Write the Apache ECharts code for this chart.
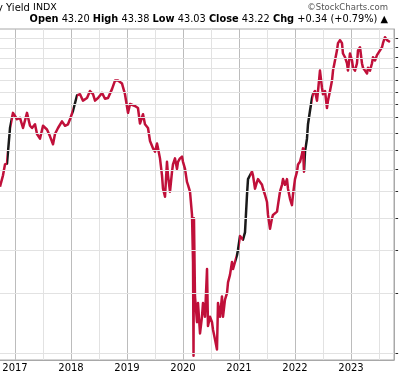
<!DOCTYPE html>
<html>
<head>
<meta charset="utf-8">
<script src="https://cdn.jsdelivr.net/npm/echarts@6/dist/echarts.min.js"></script>
<style>
  html, body { margin: 0; padding: 0; background: #fff; }
  #main { width: 400px; height: 376px; }
</style>
</head>
<body>
<div id="main"></div>
<script>
// dates as decimal years
const years = [
  2016.732, 2016.786, 2016.821, 2016.857, 2016.875, 2016.911, 2016.964, 2017.036, 2017.089, 2017.143,
  2017.214, 2017.268, 2017.304, 2017.357, 2017.393, 2017.446, 2017.5, 2017.571, 2017.625, 2017.679,
  2017.714, 2017.768, 2017.839, 2017.893, 2017.946, 2017.982, 2018.036, 2018.107, 2018.161, 2018.214,
  2018.286, 2018.339, 2018.393, 2018.429, 2018.482, 2018.554, 2018.607, 2018.661, 2018.732, 2018.786,
  2018.839, 2018.911, 2018.964, 2019.018, 2019.054, 2019.143, 2019.196, 2019.232, 2019.286, 2019.321,
  2019.375, 2019.411, 2019.464, 2019.5, 2019.536, 2019.554, 2019.589, 2019.625, 2019.643, 2019.679,
  2019.714, 2019.732, 2019.768, 2019.804, 2019.821, 2019.857, 2019.893, 2019.911, 2019.946, 2019.982,
  2020.0, 2020.036, 2020.071, 2020.089, 2020.125, 2020.161, 2020.179, 2020.188, 2020.196, 2020.214,
  2020.25, 2020.268, 2020.304, 2020.339, 2020.357, 2020.393, 2020.429, 2020.446, 2020.482, 2020.518,
  2020.536, 2020.571, 2020.607, 2020.625, 2020.661, 2020.696, 2020.714, 2020.75, 2020.786, 2020.804,
  2020.839, 2020.875, 2020.893, 2020.929, 2020.964, 2020.982, 2021.018, 2021.071, 2021.107, 2021.143,
  2021.161, 2021.196, 2021.232, 2021.25, 2021.286, 2021.321, 2021.339, 2021.375, 2021.411, 2021.429,
  2021.464, 2021.5, 2021.518, 2021.554, 2021.589, 2021.607, 2021.679, 2021.696, 2021.732, 2021.768,
  2021.786, 2021.821, 2021.857, 2021.875, 2021.911, 2021.946, 2021.964, 2022.0, 2022.036, 2022.054,
  2022.089, 2022.125, 2022.143, 2022.161, 2022.179, 2022.214, 2022.232, 2022.268, 2022.304, 2022.321,
  2022.357, 2022.393, 2022.411, 2022.446, 2022.482, 2022.5, 2022.536, 2022.571, 2022.589, 2022.625,
  2022.661, 2022.679, 2022.714, 2022.75, 2022.768, 2022.804, 2022.839, 2022.857, 2022.893, 2022.929,
  2022.946, 2022.982, 2023.018, 2023.036, 2023.071, 2023.107, 2023.125, 2023.161, 2023.196, 2023.214,
  2023.25, 2023.286, 2023.304, 2023.339, 2023.375, 2023.393, 2023.429, 2023.464, 2023.482, 2023.518,
  2023.554, 2023.571, 2023.607, 2023.643, 2023.661, 2023.696
];
const values = [
  22.2, 23.4, 24.6, 24.7, 24.6, 29.1, 31.2, 30.3, 30.5, 29.1,
  31.2, 29.4, 29.1, 29.6, 28.3, 27.7, 29.4, 28.9, 28.0, 27.0,
  28.3, 29.1, 30.0, 29.4, 29.6, 30.3, 31.5, 33.8, 34.0, 33.0,
  33.4, 34.5, 34.0, 33.0, 33.4, 34.2, 33.3, 33.4, 34.8, 36.2,
  36.2, 35.7, 34.0, 31.2, 32.5, 32.2, 31.9, 29.7, 31.0, 29.6,
  29.1, 27.4, 26.5, 26.1, 27.1, 26.5, 25.3, 23.4, 22.0, 21.2,
  24.9, 23.4, 21.7, 23.8, 24.6, 25.3, 24.1, 24.9, 25.3, 25.5,
  24.9, 24.1, 22.7, 22.4, 21.7, 19.5, 15.7, 10.2, 19.2, 13.4,
  11.9, 13.0, 11.3, 12.2, 13.0, 12.2, 15.2, 11.7, 12.2, 11.9,
  11.5, 11.0, 10.5, 13.0, 12.2, 13.4, 12.2, 13.2, 13.6, 14.3,
  14.8, 15.7, 15.2, 15.7, 16.2, 16.6, 17.7, 17.4, 18.0, 21.4,
  23.0, 23.4, 23.8, 23.4, 22.0, 22.7, 23.0, 22.7, 22.4, 22.0,
  21.4, 20.7, 19.5, 18.3, 19.2, 19.5, 19.8, 20.4, 21.7, 22.4,
  23.0, 22.4, 23.0, 22.0, 21.0, 20.4, 21.4, 23.0, 23.8, 24.6,
  24.9, 25.8, 26.5, 23.8, 26.1, 27.7, 29.6, 31.5, 33.4, 34.0,
  34.5, 33.0, 34.5, 37.9, 35.0, 34.0, 34.5, 31.9, 33.0, 34.5,
  36.2, 37.9, 39.7, 41.6, 43.0, 43.6, 43.0, 41.0, 40.3, 39.2,
  37.9, 41.0, 39.7, 38.4, 37.9, 39.2, 41.6, 42.2, 39.2, 38.4,
  37.9, 37.4, 38.4, 37.9, 39.2, 40.3, 39.7, 40.7, 40.7, 41.6,
  42.2, 43.0, 44.2, 43.6, 44.0, 43.22
];
// horizontal grid levels of the right-hand price scale
const gridLevels = [44, 42.1, 40.2, 38.4, 36.3, 34.3, 32.4, 30.6, 28.4, 26.3, 24.0, 21.7, 19.2, 16.6, 13.6, 10.3];
// stretches of steady up days, drawn black like the original
const upRuns = [
  [2016.86, 2016.93], [2018.03, 2018.1], [2020.94, 2021.0],
  [2021.07, 2021.2], [2022.18, 2022.31]
];

const chart = echarts.init(document.getElementById('main'));
const data = years.map((y, i) => [y, values[i]]);

const option = {
  animation: false,
  backgroundColor: '#fff',
  textStyle: { fontFamily: 'DejaVu Sans' },
  grid: {
    left: -13, right: 6, top: 29, bottom: 16,
    outerBoundsMode: 'none', containLabel: false,
    show: true, borderColor: '#a8a8a8', borderWidth: 1, backgroundColor: '#fff'
  },
  graphic: [
    {
      type: 'text', left: -3, top: 3,
      style: {
        text: 'y Yield {s|INDX}', font: '10px "DejaVu Sans"', fill: '#000',
        rich: { s: { fontSize: 9.5, fontFamily: 'DejaVu Sans' } }
      }
    },
    {
      type: 'text', right: 12, top: 3,
      style: { text: '\u00a9StockCharts.com', font: '8.5px "DejaVu Sans"', fill: '#555' }
    },
    {
      type: 'text', right: 12, top: 14,
      style: {
        text: '{b|Open} 43.20 {b|High} 43.38 {b|Low} 43.03 {b|Close} 43.22 {b|Chg} +0.34 (+0.79%) \u25b2',
        font: '9.8px "DejaVu Sans"', fill: '#000',
        rich: { b: { fontWeight: 'bold', fontSize: 9.8, fontFamily: 'DejaVu Sans' } }
      }
    }
  ],
  visualMap: {
    show: false, type: 'piecewise', seriesIndex: 1, dimension: 0,
    pieces: upRuns.map(r => ({ gte: r[0], lt: r[1], color: '#1a1a1a' })),
    outOfRange: { color: '#c0103a' }
  },
  xAxis: {
    type: 'value',
    min: 2016.5, max: 2023.768, interval: 0.5,
    axisLine: { show: true, lineStyle: { color: '#a8a8a8' } },
    axisTick: { show: false },
    axisLabel: {
      color: '#000', fontSize: 10, margin: 3,
      showMinLabel: true, showMaxLabel: false,
      formatter: v => (v % 1 === 0 ? String(v) : '')
    },
    splitLine: { show: true, lineStyle: { color: ['#e2e2e2', '#bcbcbc'], width: 1 } }
  },
  yAxis: {
    type: 'log', position: 'right',
    min: 10, max: 45.9,
    axisLine: { show: true, lineStyle: { color: '#a8a8a8' } },
    axisTick: { show: false },
    axisLabel: { show: false },
    splitLine: { show: false }
  },
  series: [
    {
      type: 'line', data: [], z: 1, silent: true,
      markLine: {
        silent: true, symbol: ['none', 'none'],
        lineStyle: { color: '#e2e2e2', width: 1, type: 'solid' },
        label: {
          show: true, position: 'end', distance: 1,
          color: '#000', fontSize: 10,
          formatter: p => '- ' + p.value
        },
        data: gridLevels.map(v => ({ yAxis: v }))
      }
    },
    {
      type: 'line', data: data, z: 3,
      symbol: 'none', showSymbol: false,
      lineStyle: { width: 2.5, join: 'round' }
    }
  ]
};

chart.setOption(option);
</script>
</body>
</html>
